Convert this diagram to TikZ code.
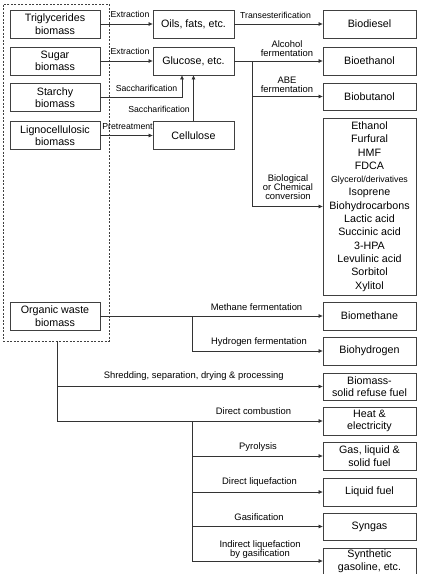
\documentclass[tikz,border=0pt]{standalone}
\usepackage{fontspec}
\setmainfont{Liberation Sans}
\usetikzlibrary{arrows.meta}

\begin{document}
\begin{tikzpicture}[x=1pt, y=-1pt,
    box/.style={draw=black!75, line width=0.8pt, minimum height=28pt, inner sep=0pt, align=center, font=\fontsize{10.7}{12.6}\selectfont},
    srcbox/.style={box, minimum width=90pt},
    midbox/.style={box, minimum width=81pt},
    prodbox/.style={box, minimum width=93pt},
    lbl/.style={inner sep=0pt, align=center, font=\fontsize{9.4}{9}\selectfont},
    slbl/.style={lbl, font=\fontsize{8.7}{9}\selectfont},
    flow/.style={draw=black!80, line width=0.7pt, -{Triangle[length=4pt, width=3.5pt]}}]
    \useasboundingbox (0,0) rectangle (421,574);

    % Biomass sources
    \node[draw=black!75, line width=0.7pt, dash pattern=on 2pt off 1.5pt, minimum width=106pt, minimum height=337pt, inner sep=0pt] (src) at (56,172.5) {};
    \node[srcbox] (trig) at (55,24) {Triglycerides\\biomass};
    \node[srcbox] (sugar) at (55,61) {Sugar\\biomass};
    \node[srcbox] (starch) at (55,97.5) {Starchy\\biomass};
    \node[srcbox] (ligno) at (55,135.5) {Lignocellulosic\\biomass};
    \node[srcbox] (waste) at (55,316) {Organic waste\\biomass};

    % Intermediates
    \node[midbox] (oils) at (193.5,24) {Oils, fats, etc.};
    \node[midbox] (gluc) at (193.5,61) {Glucose, etc.};
    \node[midbox] (cell) at (193.5,135.5) {Cellulose};

    % Products
    \node[prodbox] (diesel) at (369.5,24) {Biodiesel};
    \node[prodbox] (ethanol) at (369.5,61) {Bioethanol};
    \node[prodbox, minimum height=27pt] (butanol) at (369.5,96.5) {Biobutanol};
    \node[prodbox, minimum height=177pt, font=\fontsize{10.7}{13.3}\selectfont] (chem) at (369.5,206.5)
        {Ethanol\\Furfural\\HMF\\FDCA\\{\fontsize{8.8}{9}\selectfont Glycerol/derivatives}\\Isoprene\\Biohydrocarbons\\Lactic acid\\Succinic acid\\3-HPA\\Levulinic acid\\Sorbitol\\Xylitol};
    \node[prodbox] (methane) at (369.5,316) {Biomethane};
    \node[prodbox] (hydrogen) at (369.5,351) {Biohydrogen};
    \node[prodbox, minimum height=27pt] (rdf) at (369.5,386.5) {Biomass-\\solid refuse fuel};
    \node[prodbox] (heat) at (369.5,421) {Heat \&\\electricity};
    \node[prodbox] (gasliq) at (369.5,456) {Gas, liquid \&\\solid fuel};
    \node[prodbox] (liquid) at (369.5,492) {Liquid fuel};
    \node[prodbox, minimum height=27pt] (syngas) at (369.5,526.5) {Syngas};
    \node[prodbox, minimum height=26pt] (synth) at (369.5,561) {Synthetic\\gasoline, etc.};

    % Junctions
    \coordinate (gj) at (252,61);
    \coordinate (wj) at (192,316);
    \coordinate (dj) at (57,341);
    \coordinate (hj) at (192,421);

    % Upper routes
    \draw[flow] (trig) -- (oils);
    \draw[flow] (sugar) -- (gluc);
    \draw[flow] (starch.east) -| ([xshift=-11.5pt]gluc.south);
    \draw[flow] (ligno) -- (cell);
    \draw[flow] (cell) -- (gluc);
    \draw[flow] (oils) -- (diesel);
    \draw[flow] (gluc) -- (ethanol);
    \draw[flow] (gj) |- (butanol);
    \draw[flow] (gj) |- (chem);

    % Lower routes
    \draw[flow] (waste) -- (methane);
    \draw[flow] (wj) |- (hydrogen);
    \draw[flow] (dj) |- (rdf);
    \draw[flow] (dj) |- (heat);
    \draw[flow] (hj) |- (gasliq);
    \draw[flow] (hj) |- (liquid);
    \draw[flow] (hj) |- (syngas);
    \draw[flow] (hj) |- (synth);

    % Labels
    \node[slbl] (lextr1) at (130,14.5) {Extraction};
    \node[slbl] (lextr2) at (130,51.5) {Extraction};
    \node[slbl] (lsacc1) at (146.5,88) {Saccharification};
    \node[slbl] (lsacc2) at (159,109) {Saccharification};
    \node[slbl] (lpret) at (127.5,127) {Pretreatment};
    \node[slbl] (ltrans) at (275.5,15.5) {Transesterification};
    \node[lbl] (lalc) at (287,48.5) {Alcohol\\fermentation};
    \node[lbl] (labe) at (287,84.5) {ABE\\fermentation};
    \node[lbl] (lconv) at (288,187.5) {Biological\\or Chemical\\conversion};
    \node[lbl] (lmeth) at (256.5,307) {Methane fermentation};
    \node[lbl] (lhyd) at (259,342) {Hydrogen fermentation};
    \node[lbl] (lshred) at (193.7,376) {Shredding, separation, drying \& processing};
    \node[lbl] (lcomb) at (253.5,411) {Direct combustion};
    \node[lbl] (lpyro) at (258,447) {Pyrolysis};
    \node[lbl] (ldliq) at (259.5,482) {Direct liquefaction};
    \node[lbl] (lgasi) at (259,517) {Gasification};
    \node[lbl] (liliq) at (260,550) {Indirect liquefaction\\by gasification};
\end{tikzpicture}
\end{document}
